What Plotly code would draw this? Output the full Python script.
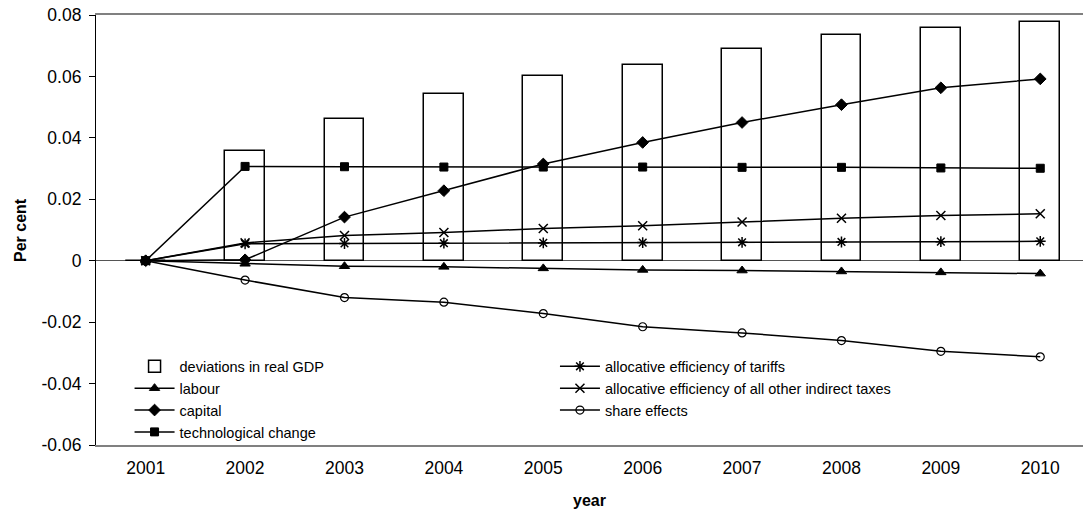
import plotly.graph_objects as go

years = ["2001", "2002", "2003", "2004", "2005", "2006", "2007", "2008", "2009", "2010"]
gdp = [0, 0.0357, 0.0460, 0.0542, 0.0601, 0.0636, 0.0690, 0.0734, 0.0758, 0.0778]
labour = [0, -0.0010, -0.0018, -0.0020, -0.0025, -0.0030, -0.0032, -0.0035, -0.0038, -0.0042]
capital = [0, 0.0003, 0.0142, 0.0228, 0.0315, 0.0385, 0.0450, 0.0508, 0.0563, 0.0592]
tech = [0, 0.0307, 0.0306, 0.0305, 0.0305, 0.0305, 0.0304, 0.0304, 0.0302, 0.0301]
tariffs = [0, 0.0055, 0.0056, 0.0057, 0.0058, 0.0059, 0.0060, 0.0061, 0.0062, 0.0063]
other_tax = [0, 0.0058, 0.0082, 0.0092, 0.0105, 0.0114, 0.0126, 0.0138, 0.0147, 0.0153]
share = [0, -0.0063, -0.0120, -0.0135, -0.0172, -0.0215, -0.0235, -0.0260, -0.0295, -0.0313]

ytick_vals = [-0.06, -0.04, -0.02, 0, 0.02, 0.04, 0.06, 0.08]
ytick_text = ["-0.06", "-0.04", "-0.02", "0", "0.02", "0.04", "0.06", "0.08"]

FONT = "Liberation Sans, Arial, sans-serif"
x = list(range(len(years)))

W, H = 1083, 515
L, T, B = 96, 15, 70
plot_w, plot_h = W - L, H - T - B

fig = go.Figure()
fig.add_trace(go.Bar(
    x=x, y=gdp, name="deviations in real GDP", width=0.4,
    marker=dict(color="white", line=dict(color="black", width=1.5)),
    legend="legend",
))

def line(y, name, symbol, size, leg, mlw=1):
    fig.add_trace(go.Scatter(
        x=x, y=y, name=name, mode="lines+markers",
        line=dict(color="black", width=1.5),
        marker=dict(symbol=symbol, size=size, color="black",
                    line=dict(color="black", width=mlw)),
        legend=leg,
    ))

line(labour, "labour", "triangle-up", 9, "legend")
line(capital, "capital", "diamond", 9, "legend")
line(tech, "technological change", "square", 8, "legend")
line(tariffs, "allocative efficiency of tariffs", "asterisk-open", 9, "legend2", 1.5)
line(other_tax, "allocative efficiency of all other indirect taxes", "x-thin-open", 9, "legend2", 1.5)
fig.add_trace(go.Scatter(
    x=x, y=share, name="share effects", mode="lines+markers",
    line=dict(color="black", width=1.5),
    marker=dict(symbol="circle-open", size=8, color="black", line=dict(color="black", width=1.2)),
    legend="legend2",
))

fig.update_layout(
    width=W, height=H,
    margin=dict(l=L, r=0, t=T, b=B, pad=0),
    paper_bgcolor="white", plot_bgcolor="white",
    font=dict(family=FONT, size=17.5, color="black"),
    showlegend=True,
    legend=dict(x=0.034, y=0.22, xanchor="left", yanchor="top",
                bgcolor="rgba(0,0,0,0)", font=dict(size=14.5, family=FONT),
                tracegroupgap=0, itemwidth=40, traceorder="normal"),
    legend2=dict(x=0.465, y=0.22, xanchor="left", yanchor="top",
                 bgcolor="rgba(0,0,0,0)", font=dict(size=14.5, family=FONT),
                 tracegroupgap=0, itemwidth=40, traceorder="normal"),
    bargap=0,
    annotations=[
        dict(text="<b>Per cent</b>", x=(20 - L) / plot_w, y=0.5, xref="paper", yref="paper",
             xanchor="center", yanchor="middle",
             showarrow=False, textangle=-90, font=dict(size=16, family=FONT)),
        dict(text="<b>year</b>", x=0.5, y=(445 - 500) / plot_h, xref="paper", yref="paper",
             xanchor="center", yanchor="middle",
             showarrow=False, font=dict(size=16, family=FONT)),
    ],
)

fig.update_xaxes(
    range=[-0.5, 9.43], tickvals=x, ticktext=years, automargin=False,
    showline=True, linecolor="#808080", linewidth=1.5, mirror=True,
    showgrid=False, zeroline=False, ticks="", ticklen=0,
    tickfont=dict(size=17.5), ticklabelstandoff=6,
)
fig.update_yaxes(
    range=[-0.06, 0.08], tickvals=ytick_vals, ticktext=ytick_text, automargin=False,
    showline=True, linecolor="black", linewidth=1.2, mirror=False,
    showgrid=False, zeroline=True, zerolinecolor="#555555", zerolinewidth=1.2,
    ticks="outside", ticklen=6, tickcolor="black",
    tickfont=dict(size=17.5), ticklabelstandoff=4, ticklabeloverflow="allow",
)

fig.write_html("out.html", config={"displayModeBar": False})

# remove the browser's default 8px body margin so the figure fills the window
with open("out.html", "r", encoding="utf-8") as f:
    html = f.read()
html = html.replace("<body>", '<body style="margin:0;padding:0;overflow:hidden;">', 1)
with open("out.html", "w", encoding="utf-8") as f:
    f.write(html)
